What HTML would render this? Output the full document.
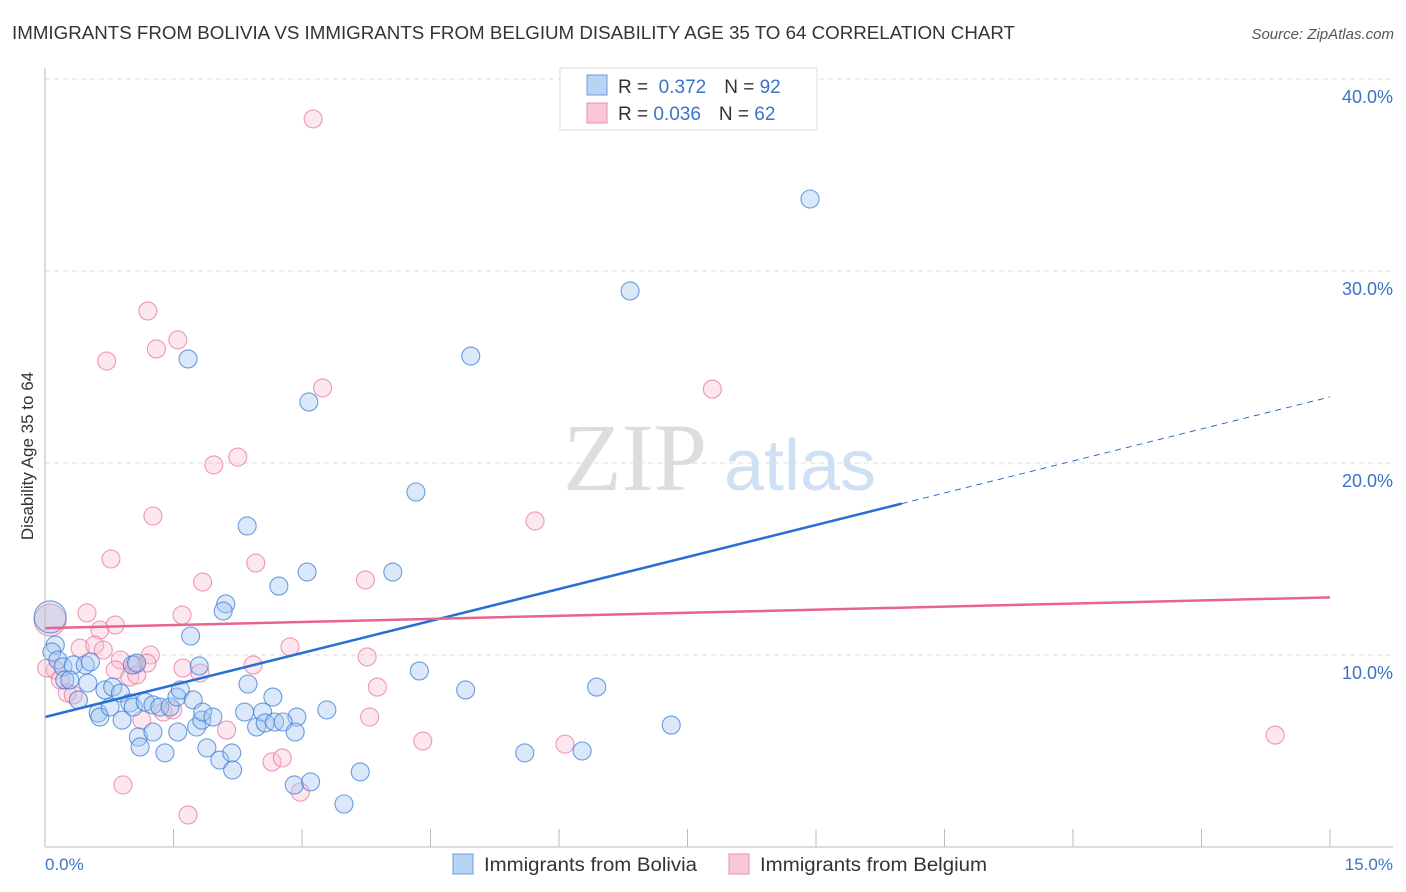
<!DOCTYPE html>
<html><head><meta charset="utf-8"><style>
body{margin:0;background:#fff;font-family:"Liberation Sans",sans-serif;}
svg{display:block}
</style></head><body>
<svg id="chart" width="1406" height="892" xmlns="http://www.w3.org/2000/svg">
<text x="12" y="39" font-size="18" fill="#333" textLength="1003" lengthAdjust="spacingAndGlyphs">IMMIGRANTS FROM BOLIVIA VS IMMIGRANTS FROM BELGIUM DISABILITY AGE 35 TO 64 CORRELATION CHART</text>
<text x="1394" y="39" font-size="15" fill="#555" font-style="italic" text-anchor="end">Source: ZipAtlas.com</text>
<g>
<text x="635" y="490" font-size="96" font-family="Liberation Serif,serif" fill="#ddd" text-anchor="middle">ZIP</text>
<text x="800" y="490" font-size="72" fill="#cfe0f3" text-anchor="middle">atlas</text>
</g>
<g id="grid"></g>
<g id="marks"></g>
<line x1="45" y1="68" x2="45" y2="847" stroke="#bbb"/>
<line x1="45" y1="847" x2="1393" y2="847" stroke="#bbb"/>
<text transform="translate(33,456) rotate(-90)" font-size="17" fill="#333" text-anchor="middle">Disability Age 35 to 64</text>
<text x="45" y="870" font-size="17" fill="#3b73c8">0.0%</text>
<text x="1393" y="870" font-size="17" fill="#3b73c8" text-anchor="end">15.0%</text>
<g>
<rect x="560" y="68" width="257" height="62" fill="#fff" stroke="#ddd"/>
<rect x="587" y="75" width="20" height="20" fill="#b9d3f5" stroke="#6a9de0"/>
<rect x="587" y="103" width="20" height="20" fill="#f9c8d6" stroke="#e890ac"/>
<text x="618" y="93" font-size="19" fill="#333">R = <tspan fill="#3b73c8">&#160;0.372</tspan><tspan dx="18">N = </tspan><tspan fill="#3b73c8">92</tspan></text>
<text x="618" y="120" font-size="19" fill="#333">R = <tspan fill="#3b73c8">0.036</tspan><tspan dx="18">N = </tspan><tspan fill="#3b73c8">62</tspan></text>
</g>
<g>
<rect x="453" y="854" width="20" height="20" fill="#b9d3f5" stroke="#6a9de0"/>
<text x="484" y="871" font-size="19" fill="#333" textLength="213" lengthAdjust="spacingAndGlyphs">Immigrants from Bolivia</text>
<rect x="729" y="854" width="20" height="20" fill="#f9c8d6" stroke="#e890ac"/>
<text x="760" y="871" font-size="19" fill="#333" textLength="227" lengthAdjust="spacingAndGlyphs">Immigrants from Belgium</text>
</g>
</svg>
<script>
const yTicks=[10,20,30,40];
const yTickLabels=["10.0%","20.0%","30.0%","40.0%"];
const xTicks=[0,1.5,3,4.5,6,7.5,9,10.5,12,13.5,15];
const boliviaX=[8.93,6.83,4.97,1.67,3.08,4.33,2.36,3.06,4.06,2.73,2.11,2.08,1.70,4.37,4.91,6.44,7.31,5.60,6.27,3.68,2.91,3.10,3.49,3.29,2.94,2.66,2.37,1.80,0.12,0.08,0.15,0.21,0.33,0.47,0.53,0.23,0.29,0.50,0.39,0.62,0.64,0.76,0.70,0.79,0.88,0.90,0.99,1.03,1.02,1.07,1.09,1.11,1.26,1.17,1.26,1.34,1.40,1.46,1.54,1.58,1.55,1.73,1.77,1.83,1.84,1.96,1.89,2.04,2.18,2.19,2.33,2.47,2.54,2.57,2.68,2.78,2.92];
const boliviaY=[33.75,28.96,25.57,25.42,23.18,18.49,16.72,14.32,14.32,13.59,12.66,12.29,10.99,9.17,8.18,8.33,6.35,4.90,5.00,3.91,3.23,3.39,2.24,7.14,6.77,7.81,8.49,9.43,10.52,10.16,9.74,9.38,9.48,9.48,9.64,8.70,8.70,8.54,7.66,6.98,6.77,7.29,8.18,8.33,8.02,6.61,7.50,7.29,9.48,9.58,5.73,5.21,5.99,7.55,7.40,7.29,4.90,7.29,7.81,8.18,5.99,7.66,6.25,6.61,7.03,6.77,5.16,4.53,4.90,4.01,7.03,6.25,7.03,6.46,6.51,6.51,5.99];
const belgiumX=[3.13,1.20,1.55,1.30,0.72,3.24,7.79,2.25,1.97,5.72,1.26,0.77,2.46,3.74,1.84,1.60,0.49,2.86,3.76,2.43,3.88,3.79,4.41,6.07,14.36,2.65,2.77,2.98,0.91,1.67,2.12,0.64,0.82,0.41,0.58,0.68,0.88,1.23,1.19,1.05,0.82,1.61,1.81,0.12,0.18,0.26,0.33,0.99,1.07,1.13,1.38,1.49,0.02];
const belgiumY=[37.92,27.92,26.41,25.94,25.31,23.91,23.85,20.31,19.90,16.98,17.24,15.00,14.79,13.91,13.80,12.08,12.19,10.42,9.90,9.48,8.33,6.77,5.52,5.36,5.83,4.43,4.64,2.86,3.23,1.67,6.09,11.30,11.56,10.36,10.52,10.26,9.74,10.00,9.58,9.48,9.22,9.32,9.06,9.22,8.70,8.02,7.92,8.85,8.96,6.61,7.03,7.14,9.32];
const bigBolivia=[0.06,11.98];
const bigBelgium=[0.06,11.82];
const boliviaTrend=[6.77,23.44];
const belgiumTrend=[11.4,13.0];
const boliviaSolidEnd=10.0;

const NS="http://www.w3.org/2000/svg";
const sx=v=>45+v*(1285/15);
const sy=v=>847-v*19.2;
const grid=document.getElementById('grid'),marks=document.getElementById('marks');
function mk(tag,attrs,parent){const e=document.createElementNS(NS,tag);for(const k in attrs)e.setAttribute(k,attrs[k]);parent.appendChild(e);return e;}
yTicks.forEach((t,i)=>{
  const l=mk('line',{x1:45,x2:1393,y1:sy(t),y2:sy(t),stroke:'#ddd','stroke-dasharray':'5,4'},grid);
  
  
  const tx=mk('text',{x:1393,y:sy(t)+24,'font-size':18,fill:'#3b73c8','text-anchor':'end'},grid);
  tx.textContent=yTickLabels[i];
  
  
});
xTicks.forEach(t=>{
  const l=mk('line',{x1:sx(t),x2:sx(t),y1:829,y2:847,stroke:'#bbb'},grid);
  
  
});
function pt(x,y,r,fill,stroke,name){
  const c=mk('circle',{cx:sx(x),cy:sy(y),r:r,fill:fill,stroke:stroke,'stroke-width':1.1},marks);
  
  
}
belgiumX.forEach((x,i)=>pt(x,belgiumY[i],9,'rgba(248,185,205,0.35)','rgba(232,120,160,0.75)','belgium-point'));
pt(bigBelgium[0],bigBelgium[1],16,'rgba(230,170,190,0.35)','rgba(232,120,160,0.75)','belgium-point-large');
boliviaX.forEach((x,i)=>pt(x,boliviaY[i],9,'rgba(165,198,240,0.4)','rgba(60,125,215,0.75)','bolivia-point'));
pt(bigBolivia[0],bigBolivia[1],16,'rgba(165,198,240,0.35)','rgba(60,125,215,0.75)','bolivia-point-large');
const by=x=>boliviaTrend[0]+(boliviaTrend[1]-boliviaTrend[0])*x/15;
let l1=mk('line',{x1:sx(0),y1:sy(by(0)),x2:sx(boliviaSolidEnd),y2:sy(by(boliviaSolidEnd)),stroke:'#2a6fd6','stroke-width':2.5},marks);


let l2=mk('line',{x1:sx(boliviaSolidEnd),y1:sy(by(boliviaSolidEnd)),x2:sx(15),y2:sy(by(15)),stroke:'#2a6fd6','stroke-width':1,'stroke-dasharray':'6,5'},marks);


let l3=mk('line',{x1:sx(0),y1:sy(belgiumTrend[0]),x2:sx(15),y2:sy(belgiumTrend[1]),stroke:'#e8648f','stroke-width':2.5},marks);


</script>
</body></html>
